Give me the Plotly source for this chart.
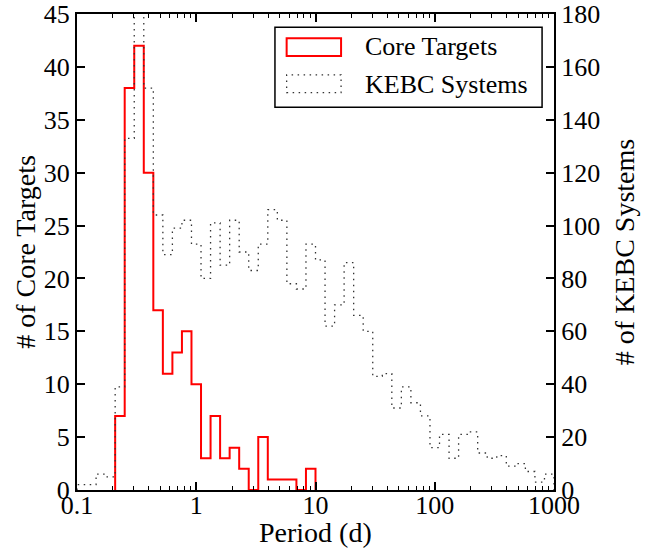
import numpy as np
import plotly.graph_objects as go

# Logarithmic period bins: 50 bins of 0.08 dex from 0.1 d to 1000 d
bin_edges = np.logspace(-1, 3, 51)

# Core targets occupy bins 4..24 (0.21 d to 10 d)
core_first_bin = 4
core_counts = [7, 38, 42, 30, 17, 11, 13, 15, 10, 3, 7, 3, 4, 2, 0, 5, 1, 1, 1, 0, 2]

# KEBC systems in every bin (0.1 d to 1000 d)
kebc_counts = [2, 2, 6, 5, 39, 133, 187, 152, 104, 89,
               99, 102, 93, 80, 101, 85, 102, 90, 83, 93,
               106, 102, 78, 76, 93, 87, 62, 70, 86, 66,
               60, 43, 44, 31, 39, 33, 28, 16, 21, 12,
               21, 22, 14, 12, 13, 9, 10, 7, 3, 6]

x_ticks = [0.1, 1, 10, 100, 1000]
x_tick_labels = ["0.1", "1", "10", "100", "1000"]

FONT = "Liberation Serif, Times New Roman, serif"


def step_outline(edges, counts):
    """Outline of a step histogram (matplotlib histtype='step')."""
    xs = [edges[0]] + list(edges[:len(counts)]) + [edges[len(counts)]]
    ys = [0] + list(counts) + [0]
    return xs, ys


kx, ky = step_outline(bin_edges, kebc_counts)
cx, cy = step_outline(bin_edges[core_first_bin:core_first_bin + len(core_counts) + 1], core_counts)

fig = go.Figure()
fig.add_trace(go.Scatter(
    x=kx, y=ky, mode="lines", line_shape="hv", name="KEBC Systems",
    line=dict(color="#333333", width=1.3, dash="1.5px,4.5px"),
    yaxis="y2", showlegend=False, hoverinfo="skip",
))
fig.add_trace(go.Scatter(
    x=cx, y=cy, mode="lines", line_shape="hv", name="Core Targets",
    line=dict(color="red", width=2),
    yaxis="y", showlegend=False, hoverinfo="skip",
))

minor_x = [m * 10.0 ** p for p in range(-1, 3) for m in range(2, 10)]

fig.update_layout(
    width=651, height=552,
    margin=dict(l=77, r=97, t=14, b=62),
    paper_bgcolor="white", plot_bgcolor="white",
    font=dict(family=FONT, size=26, color="black"),
    xaxis=dict(
        type="log", range=[-1, 3], automargin=False,
        tickmode="array", tickvals=x_ticks, ticktext=x_tick_labels,
        ticks="inside", ticklen=8, tickwidth=1.5, tickcolor="black",
        ticklabelstandoff=-9,
        minor=dict(tickmode="array", tickvals=minor_x, ticks="inside",
                   ticklen=4, tickwidth=1, tickcolor="black", showgrid=False),
        showline=True, linecolor="black", linewidth=2, mirror="ticks",
        showgrid=False, zeroline=False,
        tickfont=dict(size=26),
    ),
    yaxis=dict(
        range=[0, 45], dtick=5, tick0=0, automargin=False,
        ticks="inside", ticklen=8, tickwidth=1.5, tickcolor="black",
        showline=True, linecolor="black", linewidth=2,
        showgrid=False, zeroline=False,
        title=dict(text="# of Core Targets", font=dict(size=28), standoff=0),
        tickfont=dict(size=26),
    ),
    yaxis2=dict(
        range=[0, 180], dtick=20, tick0=0, overlaying="y", side="right",
        automargin=False,
        ticks="inside", ticklen=8, tickwidth=1.5, tickcolor="black",
        showline=True, linecolor="black", linewidth=2,
        showgrid=False, zeroline=False,
        title=dict(text="# of KEBC Systems", font=dict(size=28), standoff=15),
        tickfont=dict(size=26),
    ),
)

# x-axis title, placed just under the tick labels
fig.add_annotation(text="Period (d)", xref="paper", yref="paper",
                   x=0.5, y=-0.09, xanchor="center", yanchor="middle",
                   showarrow=False, font=dict(size=28))

# Legend box with patch-style keys
fig.add_shape(type="rect", xref="paper", yref="paper",
              x0=0.415, x1=0.975, y0=0.804, y1=0.972,
              line=dict(color="black", width=1.5), fillcolor="white", layer="above")
fig.add_shape(type="rect", xref="paper", yref="paper",
              x0=0.4395, x1=0.5536, y0=0.912, y1=0.949,
              line=dict(color="red", width=2), layer="above")
fig.add_shape(type="rect", xref="paper", yref="paper",
              x0=0.4395, x1=0.5536, y0=0.835, y1=0.872,
              line=dict(color="#333333", width=1.3, dash="1.5px,4.5px"), layer="above")
fig.add_annotation(text="Core Targets", xref="paper", yref="paper",
                   x=0.5998, y=0.9307, xanchor="left", yanchor="middle",
                   showarrow=False, font=dict(size=26))
fig.add_annotation(text="KEBC Systems", xref="paper", yref="paper",
                   x=0.5998, y=0.851, xanchor="left", yanchor="middle",
                   showarrow=False, font=dict(size=26))

fig.write_html("out.html")
